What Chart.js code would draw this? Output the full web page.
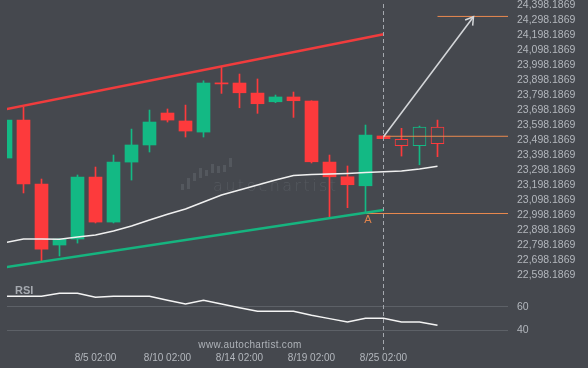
<!DOCTYPE html>
<html><head><meta charset="utf-8">
<script src="https://cdn.jsdelivr.net/npm/chart.js@4/dist/chart.umd.min.js"></script>
<style>html,body{margin:0;padding:0;background:#45484e;overflow:hidden}#wrap{width:588px;height:368px;position:relative}</style>
</head><body><div id="wrap"><canvas id="c" width="588" height="368"></canvas></div>
<script>
// ---- data ----
const candleIdx = [0,1,2,3,4,5,6,7,8,9,10,11,12,13,14,15,16,17,18,19,20,21];
const openP  = [23378,23631,23205,22798,22838,23251,22951,23351,23465,23678,23625,23551,23879,23878,23811,23753,23785,23758,23351,23253,23193,23525];
const highP  = [23640,23718,23238,22840,23265,23318,23398,23571,23698,23705,23731,23893,23987,23938,23905,23798,23818,23760,23398,23325,23598,23525];
const lowP   = [23370,23145,22691,22725,22811,22945,22945,23231,23418,23618,23518,23518,23809,23713,23676,23747,23649,23345,22980,23047,23013,23507];
const closeP = [23631,23205,22771,22838,23251,22951,23351,23465,23618,23631,23558,23878,23872,23813,23740,23785,23760,23353,23253,23200,23531,23507];

const projIdx   = [22,23,24];
const projOpen  = [23503,23460,23585];
const projHigh  = [23576,23591,23631];
const projLow   = [23391,23333,23387];
const projClose = [23460,23585,23473];

const maIdx = [0,1,2,3,4,5,6,7,8,9,10,11,12,13,14,15,16,17,18,19,20,21,22,23,24];
const maValues = [22815,22838,22838,22836,22851,22865,22891,22925,22965,23003,23038,23085,23131,23165,23198,23231,23261,23269,23271,23275,23281,23287,23291,23305,23323];
const rsiValues = [68.8,68.8,68.8,71.4,71.4,68.0,68.8,68.8,68.8,65.5,62.3,65.4,62.3,59.2,56.1,56.1,56.1,52.7,49.9,47.0,50.2,50.2,47.0,47.0,44.2];

const upperChannelX = [0,21];
const upperChannelY = [23703,24203];
const lowerChannelX = [0,21];
const lowerChannelY = [22650,23032];

const levelStart = [24,21,20];
const levelValue = [24322,23523,23008];
const levelEnd = 28;

const arrowX = [21,26];
const arrowY = [23520,24320];

const patternPointIdx = 20;
const patternPointValue = 23013;
const patternPointLabel = 'A';
const currentIdx = 21;

const priceTicks = [24398.1869,24298.1869,24198.1869,24098.1869,23998.1869,23898.1869,23798.1869,23698.1869,23598.1869,23498.1869,23398.1869,23298.1869,23198.1869,23098.1869,22998.1869,22898.1869,22798.1869,22698.1869,22598.1869];
const rsiTicks = [60,40];
const xTickIdx = [5,9,13,17,21];
const xTickLabels = ['8/5 02:00','8/10 02:00','8/14 02:00','8/19 02:00','8/25 02:00'];

// ---- styles ----
const BG = '#45484e';
const UP = '#13b984';
const DOWN = '#fd3a3c';
const TXT = '#b3b7bd';
const ORANGE = '#ea8a4f';

const bodies = candleIdx.map((x,i)=>({x, y:[openP[i], closeP[i]]}));
const wicks = candleIdx.map((x,i)=>({x, y:[lowP[i], highP[i]]}));
const candleColors = candleIdx.map((x,i)=> closeP[i] >= openP[i] && i!==12 ? UP : DOWN);
const pBodies = projIdx.map((x,i)=>({x, y:[projOpen[i], projClose[i]]}));
const pWicks = projIdx.map((x,i)=>({x, y:[projLow[i], projHigh[i]]}));
const pColors = projIdx.map((x,i)=> projClose[i] >= projOpen[i] ? UP : DOWN);

const lineBase = {type:'line', pointRadius:0, tension:0, fill:false, xAxisID:'x'};
const datasets = [
  {type:'bar', data: wicks, backgroundColor: candleColors, barThickness:1, grouped:false, order:10, yAxisID:'y', xAxisID:'x'},
  {type:'bar', data: bodies, backgroundColor: candleColors, barThickness:13, grouped:false, minBarLength:1, order:9, yAxisID:'y', xAxisID:'x'},
  {type:'bar', data: pWicks, backgroundColor: pColors, barThickness:1, grouped:false, order:10, yAxisID:'y', xAxisID:'x'},
  {type:'bar', data: pBodies, backgroundColor: BG, borderColor: pColors, borderWidth:1, borderSkipped:false, barThickness:13, grouped:false, order:9, yAxisID:'y', xAxisID:'x'},
  Object.assign({}, lineBase, {data: maIdx.map((x,i)=>({x, y:maValues[i]})), borderColor:'#f0f0f0', borderWidth:1.5, yAxisID:'y', order:2}),
  Object.assign({}, lineBase, {data: upperChannelX.map((x,i)=>({x, y:upperChannelY[i]})), borderColor:'#f03c3d', borderWidth:2.5, yAxisID:'y', order:3}),
  Object.assign({}, lineBase, {data: lowerChannelX.map((x,i)=>({x, y:lowerChannelY[i]})), borderColor:'#16b47f', borderWidth:2.5, yAxisID:'y', order:3}),
  ...levelStart.map((s,i)=> Object.assign({}, lineBase, {data:[{x:s,y:levelValue[i]},{x:levelEnd,y:levelValue[i]}], borderColor:ORANGE, borderWidth:1, yAxisID:'y', order:4})),
  Object.assign({}, lineBase, {data: arrowX.map((x,i)=>({x, y:arrowY[i]})), borderColor:'#d4d6d9', borderWidth:1.5, yAxisID:'y', order:1}),
  Object.assign({}, lineBase, {data: maIdx.map((x,i)=>({x, y:rsiValues[i]})), borderColor:'#f4f4f4', borderWidth:1.5, yAxisID:'rsi', order:1}),
];

const overlay = {
  id:'overlay',
  beforeDatasetsDraw(chart){
    const c = chart.ctx;
    c.save();
    c.fillStyle = '#54585e';
    const bars = [[181,184,190],[187,178,189],[193,173,181],[199,168,178],[205,170,176],[211,164,173],[217,166,173],[223,165,172],[229,158,167]];
    bars.forEach(b=>{ c.fillRect(b[0], b[1], 3, b[2]-b[1]); });
    c.font = '300 16px "DejaVu Sans"';
    c.letterSpacing = '2.4px';
    c.fillStyle = '#55595f';
    c.textAlign = 'left'; c.textBaseline = 'alphabetic';
    c.fillText('autochartist', 213, 191);
    c.restore();
  },
  afterDatasetsDraw(chart){
    const c = chart.ctx, xs = chart.scales.x, ys = chart.scales.y, area = chart.chartArea;
    c.save();
    const cx = Math.floor(xs.getPixelForValue(currentIdx)) + 0.5;
    c.strokeStyle = '#a4a8ae'; c.lineWidth = 1; c.setLineDash([4,3]);
    c.beginPath(); c.moveTo(cx, 4); c.lineTo(cx, area.bottom); c.stroke();
    c.setLineDash([]);
    const x1 = xs.getPixelForValue(arrowX[0]), y1 = ys.getPixelForValue(arrowY[0]);
    const x2 = xs.getPixelForValue(arrowX[1]), y2 = ys.getPixelForValue(arrowY[1]);
    const ang = Math.atan2(y2-y1, x2-x1);
    c.strokeStyle = '#d4d6d9'; c.lineWidth = 1.5;
    c.beginPath();
    c.moveTo(x2 - 9*Math.cos(ang-0.55), y2 - 9*Math.sin(ang-0.55));
    c.lineTo(x2, y2);
    c.lineTo(x2 - 9*Math.cos(ang+0.55), y2 - 9*Math.sin(ang+0.55));
    c.stroke();
    c.fillStyle = '#e0834c'; c.font = '11px "Liberation Sans"';
    c.textAlign = 'center'; c.textBaseline = 'middle';
    c.fillText(patternPointLabel, xs.getPixelForValue(patternPointIdx)+2.5, ys.getPixelForValue(patternPointValue)+7);
    c.fillStyle = '#a6aab0'; c.font = 'bold 11px "Liberation Sans"';
    c.textAlign = 'left';
    c.fillText('RSI', 15, 291);
    c.fillStyle = '#aeb2b8'; c.font = '10px "Liberation Sans"';
    c.letterSpacing = '0.3px';
    c.textAlign = 'center';
    c.fillText('www.autochartist.com', 250, 345);
    c.restore();
  }
};

const fmt = v => Number(v).toLocaleString('en-US',{minimumFractionDigits:4, maximumFractionDigits:4});
const fitY = s => { s.width = 80; s.paddingTop = 0; s.paddingBottom = 0; };

new Chart(document.getElementById('c'), {
  type:'bar',
  data:{datasets},
  plugins:[overlay],
  options:{
    responsive:false, animation:false, devicePixelRatio:1,
    layout:{padding:{left:7,right:0,top:0,bottom:0}, autoPadding:false},
    plugins:{legend:{display:false}, tooltip:{enabled:false}},
    scales:{
      x:{type:'linear', position:'bottom', offset:false, min:(7-5.5)/18, max:(508-5.5)/18,
        grid:{display:false, drawTicks:false, offset:false}, border:{display:false},
        ticks:{color:TXT, font:{family:'Liberation Sans', size:10}, padding:2, autoSkip:false, maxRotation:0,
          callback:(v)=> { const k = xTickIdx.indexOf(v); return k>=0 ? xTickLabels[k] : ''; }},
        afterBuildTicks: s => { s.ticks = xTickIdx.map(v=>({value:v})); },
        afterFit: s => { s.height = 18; s.paddingLeft = 0; s.paddingRight = 0; }
      },
      y:{type:'linear', position:'right', stack:'main', stackWeight:282, weight:0,
        min: 24398.1869 - 277/0.15, max: 24398.1869 + 5/0.15,
        grid:{display:false, drawTicks:false}, border:{display:false},
        ticks:{color:TXT, font:{family:'Liberation Sans', size:10.5}, padding:9, autoSkip:false, callback: v => fmt(v)},
        afterBuildTicks: s => { s.ticks = priceTicks.map(v=>({value:v})); },
        afterFit: fitY
      },
      rsi:{type:'linear', position:'right', stack:'main', stackWeight:68, weight:1,
        min: 60 - 43.3/1.18, max: 60 + 24.7/1.18,
        grid:{color:'#5d6167', drawTicks:false}, border:{display:false},
        ticks:{color:TXT, font:{family:'Liberation Sans', size:10.5}, padding:9, autoSkip:false},
        afterBuildTicks: s => { s.ticks = rsiTicks.map(v=>({value:v})); },
        afterFit: fitY
      }
    }
  }
});
</script>
</body></html>
